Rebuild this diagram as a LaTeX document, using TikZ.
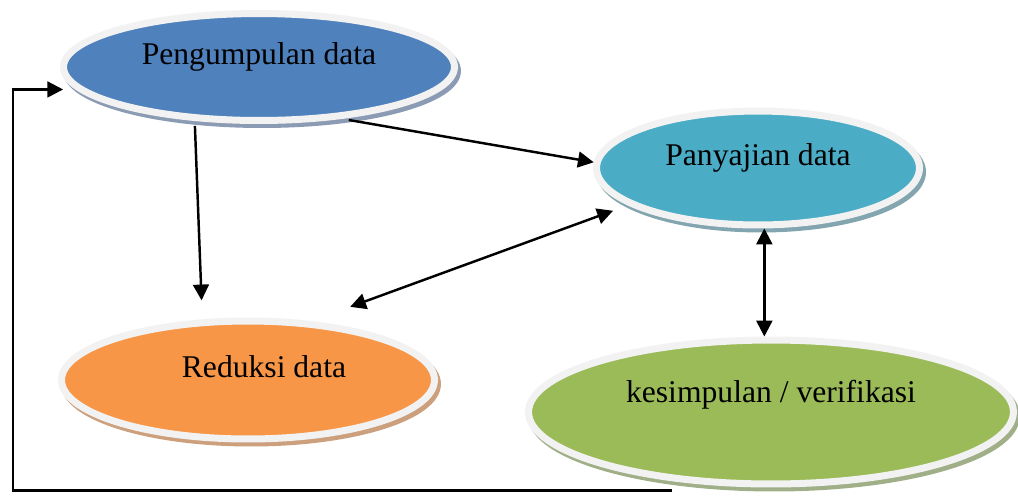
\documentclass[tikz,border=0pt]{standalone}
\usepackage{fontspec}
\setmainfont{Liberation Serif}
\usetikzlibrary{positioning, arrows.meta, shapes.geometric, calc}

\definecolor{pblue}{HTML}{4F81BD}
\definecolor{pteal}{HTML}{4BACC6}
\definecolor{porange}{HTML}{F79646}
\definecolor{pgreen}{HTML}{9BBB59}
\definecolor{rimgray}{HTML}{F2F2F2}
\definecolor{sblue}{RGB}{140,155,180}
\definecolor{steal}{RGB}{130,165,175}
\definecolor{sorange}{RGB}{205,160,125}
\definecolor{sgreen}{RGB}{160,175,135}

\tikzset{
  stage/.style={ellipse, draw=rimgray, line width=0.14cm, inner sep=0pt,
    text height=12pt, font=\fontsize{18}{20}\selectfont},
  dropped/.style={preaction={fill=#1, draw=#1, line width=0.14cm,
    transform canvas={shift={(0.06cm,-0.08cm)}}}},
  flow/.style={line width=1.4pt}
}

\begin{document}
\begin{tikzpicture}[x=0.02cm, y=-0.02cm, >={Triangle[length=9pt,width=9pt]}]
        \useasboundingbox (0,0) rectangle (1018,495);

        % Stages of the analysis
        \node[stage, fill=pblue, dropped=sblue, minimum width=7.82cm, minimum height=2.14cm,
              text depth=14.3pt] (pengumpulan) at (259,67) {Pengumpulan data};
        \node[stage, fill=pteal, dropped=steal, minimum width=6.46cm, minimum height=2.28cm,
              text depth=15.4pt] (panyajian) at (758,168) {Panyajian data};
        \node[stage, fill=porange, dropped=sorange, minimum width=7.46cm, minimum height=2.36cm,
              text depth=15.4pt] (reduksi) at (248,380) {\hspace*{0.64cm}Reduksi data};
        \node[stage, fill=pgreen, dropped=sgreen, minimum width=9.7cm, minimum height=2.88cm,
              text depth=23.3pt] (kesimpulan) at (771,412) {kesimpulan / verifikasi};

        % Connectors
        \draw[flow, ->, shorten <=0.1cm, shorten >=0.38cm] (pengumpulan.-140) -- (reduksi.127);
        \draw[flow, ->, shorten <=0.14cm] (pengumpulan.-32) -- (panyajian.178);
        \draw[flow, <->, shorten <=0.83cm, shorten >=0.32cm] (reduksi.43) -- (panyajian.-164);
        \draw[flow, <->] (panyajian.-84) -- (panyajian.-84 |- kesimpulan.north);

        % Feedback loop back to the start
        \coordinate (loopx) at (13,0);
        \draw[flow, ->, shorten >=0.26cm] ([yshift=-0.06cm]kesimpulan.-145 |- kesimpulan.south)
            -| (loopx |- pengumpulan.-173) -- (pengumpulan.-173);
    \end{tikzpicture}
\end{document}
